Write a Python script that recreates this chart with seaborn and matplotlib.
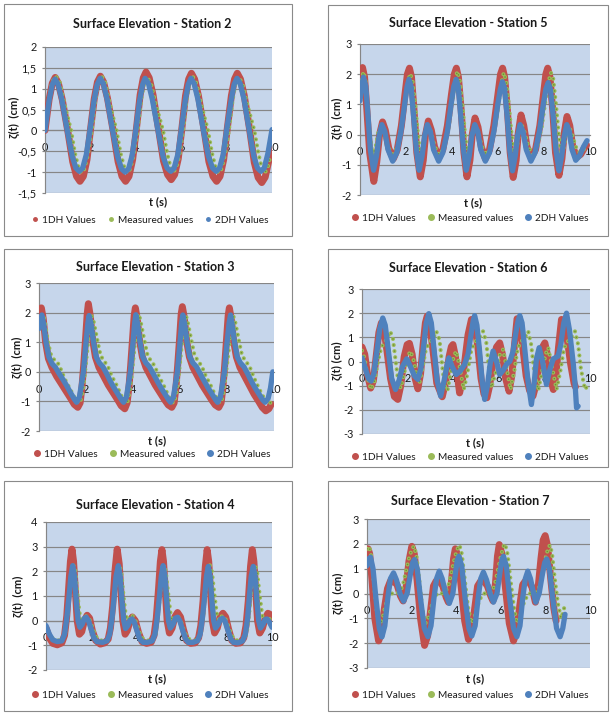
import matplotlib
matplotlib.use("Agg")
import matplotlib.pyplot as plt
import seaborn as sns
import pandas as pd
from matplotlib.lines import Line2D
from matplotlib.patches import Rectangle
from matplotlib.ticker import FuncFormatter

# ---------------- data (t [s], zeta [cm]) ----------------
series_names = ["1DH Values", "Measured values", "2DH Values"]

st2_1dh = [(0,0),(0.18,0.74),(0.32,1.13),(0.45,1.27),(0.59,1.13),(0.76,0.74),(1.0,0),(1.22,-0.75),(1.39,-1.1),(1.54,-1.22),(1.69,-1.1),(1.85,-0.7),
           (2.0,0),(2.17,0.76),(2.31,1.16),(2.44,1.3),(2.58,1.16),(2.75,0.78),(3.0,0),(3.22,-0.75),(3.39,-1.1),(3.55,-1.22),(3.7,-1.1),(3.86,-0.7),
           (4.02,0),(4.19,0.85),(4.33,1.26),(4.45,1.4),(4.59,1.26),(4.76,0.85),(5.01,0),(5.22,-0.73),(5.4,-1.06),(5.56,-1.18),(5.71,-1.06),(5.87,-0.68),
           (6.02,0),(6.19,0.83),(6.33,1.23),(6.45,1.37),(6.59,1.23),(6.76,0.83),(7.01,0),(7.22,-0.75),(7.4,-1.1),(7.56,-1.22),(7.71,-1.1),(7.87,-0.7),
           (8.02,0),(8.21,0.83),(8.35,1.23),(8.47,1.37),(8.61,1.23),(8.78,0.83),(9.02,0),(9.22,-0.77),(9.39,-1.13),(9.55,-1.25),(9.7,-1.12),(9.85,-0.75),(9.95,-0.45)]
st2_meas = [(0,0.05),(0.15,0.7),(0.3,1.15),(0.48,1.3),(0.65,1.15),(0.85,0.65),(1.15,0),(1.32,-0.55),(1.48,-0.9),(1.6,-1.02),(1.74,-0.92),(1.9,-0.55),
            (2.06,0),(2.22,0.75),(2.35,1.18),(2.48,1.32),(2.65,1.15),(2.85,0.65),(3.15,0),(3.33,-0.55),(3.5,-0.9),(3.62,-1.03),(3.76,-0.92),(3.92,-0.55),
            (4.08,0),(4.24,0.75),(4.37,1.15),(4.5,1.28),(4.67,1.12),(4.87,0.65),(5.2,0),(5.38,-0.55),(5.53,-0.88),(5.65,-1.0),(5.78,-0.9),(5.94,-0.55),
            (6.08,0),(6.24,0.75),(6.37,1.17),(6.5,1.3),(6.67,1.13),(6.87,0.65),(7.18,0),(7.36,-0.55),(7.52,-0.9),(7.64,-1.02),(7.78,-0.92),(7.94,-0.55),
            (8.1,0),(8.27,0.75),(8.4,1.15),(8.53,1.28),(8.7,1.12),(8.9,0.65),(9.22,0),(9.4,-0.55),(9.55,-0.9),(9.67,-1.02),(9.8,-0.92),(9.93,-0.6)]
st2_2dh = [(0,0),(0.18,0.72),(0.32,1.1),(0.44,1.23),(0.58,1.1),(0.75,0.72),(0.98,0),(1.2,-0.62),(1.36,-0.9),(1.51,-0.98),(1.66,-0.9),(1.82,-0.58),
           (1.98,0),(2.16,0.72),(2.3,1.1),(2.43,1.25),(2.57,1.12),(2.74,0.74),(2.98,0),(3.2,-0.63),(3.37,-0.92),(3.53,-1.0),(3.68,-0.92),(3.84,-0.6),
           (4.0,0),(4.17,0.72),(4.3,1.1),(4.41,1.25),(4.56,1.12),(4.73,0.74),(4.98,0),(5.2,-0.62),(5.38,-0.9),(5.54,-0.98),(5.69,-0.9),(5.85,-0.58),
           (6.0,0),(6.18,0.72),(6.31,1.1),(6.43,1.25),(6.57,1.12),(6.74,0.74),(6.98,0),(7.2,-0.62),(7.38,-0.9),(7.54,-0.98),(7.69,-0.9),(7.85,-0.58),
           (8.0,0),(8.2,0.72),(8.33,1.1),(8.46,1.25),(8.6,1.12),(8.77,0.74),(9.0,0),(9.2,-0.62),(9.36,-0.9),(9.51,-0.98),(9.66,-0.9),(9.82,-0.55),(10.0,0.02)]

st5_1dh = [(0,1.4),(0.05,1.95),(0.11,2.22),(0.2,1.9),(0.3,0.8),(0.42,-0.6),(0.6,-1.55),(0.73,-0.9),(0.85,0.0),(0.98,0.42),(1.1,0.15),(1.25,-0.45),(1.45,-0.8),(1.62,-0.5),(1.8,0.3),(1.95,1.3),
           (2.06,2.0),(2.15,2.2),(2.24,1.9),(2.35,0.8),(2.47,-0.6),(2.62,-1.4),(2.75,-0.85),(2.85,0.0),(2.97,0.45),(3.1,0.15),(3.24,-0.4),(3.42,-0.75),(3.6,-0.5),(3.8,0.3),(3.98,1.35),
           (4.1,2.0),(4.19,2.2),(4.28,1.9),(4.4,0.8),(4.52,-0.6),(4.65,-1.4),(4.78,-0.85),(4.88,0.0),(5.0,0.55),(5.13,0.25),(5.27,-0.4),(5.45,-0.8),(5.63,-0.5),(5.82,0.3),(6.0,1.35),
           (6.11,2.0),(6.2,2.2),(6.29,1.9),(6.41,0.8),(6.53,-0.6),(6.66,-1.42),(6.79,-0.85),(6.88,0.05),(7.0,0.65),(7.12,0.3),(7.26,-0.4),(7.45,-0.75),(7.63,-0.5),(7.82,0.3),(7.98,1.35),
           (8.08,2.0),(8.16,2.2),(8.26,1.9),(8.38,0.8),(8.5,-0.6),(8.65,-1.35),(8.78,-0.8),(8.88,0.05),(9.0,0.6),(9.12,0.3),(9.25,-0.4),(9.42,-0.75),(9.6,-0.65),(9.75,-0.45),(9.85,-0.35)]
st5_meas = [(0,1.2),(0.07,1.8),(0.15,2.08),(0.24,1.8),(0.33,1.0),(0.43,0.0),(0.55,-0.7),(0.68,-0.4),(0.8,0.1),(0.93,0.25),(1.05,0.05),(1.2,-0.4),(1.42,-0.65),(1.6,-0.45),(1.8,0.25),(1.97,1.1),
            (2.08,1.7),(2.18,2.02),(2.28,1.8),(2.4,1.0),(2.52,0.0),(2.63,-0.7),(2.75,-0.4),(2.86,0.1),(2.98,0.28),(3.1,0.05),(3.25,-0.4),(3.45,-0.68),(3.65,-0.45),(3.85,0.25),(4.02,1.1),
            (4.13,1.75),(4.23,2.1),(4.33,1.85),(4.45,1.0),(4.57,0.0),(4.68,-0.7),(4.8,-0.4),(4.91,0.1),(5.03,0.28),(5.15,0.05),(5.3,-0.4),(5.5,-0.68),(5.68,-0.45),(5.88,0.25),(6.04,1.1),
            (6.15,1.7),(6.25,2.05),(6.35,1.8),(6.47,1.0),(6.59,0.0),(6.7,-0.7),(6.82,-0.4),(6.93,0.1),(7.05,0.28),(7.17,0.05),(7.32,-0.4),(7.5,-0.68),(7.7,-0.45),(7.9,0.25),(8.06,1.1),
            (8.18,1.7),(8.3,2.05),(8.4,1.85),(8.52,1.0),(8.64,0.0),(8.75,-0.7),(8.87,-0.4),(8.98,0.1),(9.1,0.25),(9.22,0.0),(9.38,-0.4),(9.55,-0.6),(9.72,-0.5),(9.9,-0.35)]
st5_2dh = [(0,1.12),(0.07,1.6),(0.15,1.9),(0.25,1.6),(0.35,0.6),(0.45,-0.5),(0.59,-1.18),(0.72,-0.7),(0.83,-0.05),(0.95,0.33),(1.08,0.1),(1.22,-0.5),(1.42,-0.88),(1.6,-0.6),(1.78,0.1),(1.95,1.05),
           (2.05,1.6),(2.13,1.83),(2.22,1.6),(2.33,0.6),(2.45,-0.5),(2.57,-1.18),(2.7,-0.7),(2.81,-0.05),(2.93,0.33),(3.06,0.1),(3.2,-0.5),(3.42,-0.88),(3.6,-0.6),(3.8,0.1),(3.97,1.05),
           (4.08,1.6),(4.18,1.83),(4.27,1.6),(4.38,0.6),(4.5,-0.5),(4.62,-1.18),(4.75,-0.7),(4.86,-0.05),(4.99,0.33),(5.12,0.1),(5.25,-0.5),(5.45,-0.88),(5.63,-0.6),(5.82,0.1),(5.99,1.0),
           (6.1,1.5),(6.19,1.75),(6.28,1.55),(6.4,0.6),(6.51,-0.5),(6.63,-1.2),(6.75,-0.7),(6.85,-0.05),(6.96,0.33),(7.09,0.1),(7.23,-0.5),(7.43,-0.88),(7.61,-0.6),(7.8,0.1),(7.97,1.0),
           (8.08,1.5),(8.18,1.72),(8.28,1.5),(8.4,0.6),(8.52,-0.5),(8.65,-1.2),(8.77,-0.7),(8.88,-0.05),(8.99,0.33),(9.1,0.1),(9.22,-0.5),(9.38,-0.85),(9.55,-0.7),(9.72,-0.4),(9.87,-0.2)]

st3_1dh = [(0,1.7),(0.05,2.05),(0.1,2.16),(0.18,1.8),(0.28,1.0),(0.4,0.45),(0.55,0.15),(0.75,-0.15),(0.95,-0.4),(1.15,-0.65),(1.35,-0.9),(1.5,-1.1),(1.65,-1.2),(1.75,-1.05),(1.83,-0.5),(1.9,0.2),(1.98,1.1),
           (2.05,1.95),(2.1,2.3),(2.18,1.9),(2.28,1.1),(2.4,0.5),(2.55,0.15),(2.75,-0.15),(2.95,-0.45),(3.15,-0.7),(3.35,-0.95),(3.5,-1.15),(3.65,-1.25),(3.75,-1.05),(3.83,-0.5),(3.9,0.2),(3.98,1.1),
           (4.05,1.9),(4.1,2.16),(4.18,1.8),(4.28,1.05),(4.4,0.5),(4.55,0.15),(4.75,-0.15),(4.95,-0.45),(5.15,-0.7),(5.35,-0.95),(5.5,-1.12),(5.65,-1.2),(5.75,-1.05),(5.83,-0.5),(5.9,0.2),(5.98,1.1),
           (6.05,1.95),(6.1,2.2),(6.18,1.85),(6.28,1.05),(6.4,0.5),(6.55,0.15),(6.75,-0.15),(6.95,-0.45),(7.15,-0.7),(7.35,-0.95),(7.5,-1.12),(7.65,-1.2),(7.75,-1.05),(7.83,-0.5),(7.9,0.2),(7.98,1.1),
           (8.05,1.9),(8.1,2.16),(8.18,1.8),(8.28,1.05),(8.4,0.5),(8.55,0.15),(8.75,-0.15),(8.95,-0.45),(9.15,-0.75),(9.35,-1.0),(9.5,-1.2),(9.65,-1.32),(9.78,-1.25),(9.88,-1.1)]
st3_meas = [(0,1.5),(0.08,1.85),(0.18,1.95),(0.27,1.6),(0.37,1.05),(0.5,0.6),(0.65,0.4),(0.8,0.3),(0.95,0.05),(1.1,-0.25),(1.3,-0.55),(1.5,-0.85),(1.65,-1.03),(1.75,-1.05),(1.85,-0.7),(1.95,-0.1),
            (2.05,0.7),(2.15,1.5),(2.23,1.9),(2.3,1.8),(2.4,1.4),(2.5,1.0),(2.62,0.55),(2.78,0.35),(2.92,0.2),(3.1,-0.15),(3.3,-0.45),(3.5,-0.8),(3.65,-1.02),(3.75,-1.07),(3.85,-0.7),(3.95,-0.1),
            (4.05,0.7),(4.15,1.5),(4.23,1.95),(4.3,1.8),(4.4,1.4),(4.5,1.0),(4.62,0.55),(4.78,0.35),(4.92,0.2),(5.1,-0.15),(5.3,-0.45),(5.5,-0.8),(5.65,-1.02),(5.75,-1.05),(5.85,-0.7),(5.95,-0.1),
            (6.05,0.7),(6.15,1.5),(6.23,1.9),(6.3,1.8),(6.4,1.4),(6.5,1.0),(6.62,0.55),(6.78,0.35),(6.92,0.2),(7.1,-0.15),(7.3,-0.45),(7.5,-0.8),(7.65,-1.02),(7.75,-1.05),(7.85,-0.7),(7.95,-0.1),
            (8.07,0.7),(8.17,1.5),(8.25,1.9),(8.32,1.8),(8.42,1.4),(8.52,1.0),(8.64,0.55),(8.8,0.35),(8.95,0.2),(9.15,-0.2),(9.35,-0.55),(9.55,-0.85),(9.7,-1.05),(9.8,-1.1),(9.92,-0.95)]
st3_2dh = [(0,1.46),(0.05,1.75),(0.12,1.92),(0.2,1.6),(0.3,1.0),(0.42,0.5),(0.55,0.28),(0.7,0.15),(0.85,-0.05),(1.05,-0.3),(1.2,-0.5),(1.35,-0.72),(1.5,-0.92),(1.6,-1.03),(1.72,-0.85),(1.8,-0.45),(1.89,0.0),(1.99,0.9),(2.08,1.65),(2.13,1.9),
           (2.22,1.6),(2.32,1.0),(2.44,0.5),(2.57,0.3),(2.72,0.17),(2.87,-0.05),(3.05,-0.34),(3.2,-0.55),(3.4,-0.8),(3.52,-0.95),(3.6,-1.03),(3.72,-0.85),(3.8,-0.45),(3.89,0.0),(3.99,0.9),(4.07,1.65),(4.12,1.93),
           (4.2,1.6),(4.3,1.0),(4.42,0.5),(4.55,0.3),(4.7,0.17),(4.85,-0.05),(5.05,-0.34),(5.2,-0.55),(5.4,-0.8),(5.52,-0.95),(5.6,-1.03),(5.72,-0.85),(5.8,-0.45),(5.89,0.0),(5.99,0.9),(6.07,1.65),(6.12,1.92),
           (6.2,1.6),(6.3,1.0),(6.42,0.5),(6.55,0.3),(6.7,0.17),(6.85,-0.05),(7.05,-0.34),(7.2,-0.55),(7.4,-0.8),(7.52,-0.95),(7.6,-1.03),(7.72,-0.85),(7.8,-0.45),(7.89,0.0),(7.99,0.9),(8.09,1.65),(8.15,1.92),
           (8.22,1.6),(8.32,1.0),(8.44,0.5),(8.57,0.3),(8.72,0.17),(8.87,-0.05),(9.05,-0.34),(9.2,-0.55),(9.4,-0.8),(9.52,-0.95),(9.62,-1.03),(9.75,-0.9),(9.85,-0.55),(9.95,0.0)]

st6_1dh = [(0,0.6),(0.12,0.3),(0.25,-0.6),(0.38,-1.1),(0.5,-0.8),(0.62,0.2),(0.74,1.2),(0.85,1.6),(0.97,1.3),(1.1,0.4),(1.25,-0.7),(1.42,-1.45),(1.57,-1.57),(1.7,-1.0),(1.85,0.2),(1.98,0.7),
           (2.08,0.75),(2.2,0.3),(2.33,-0.7),(2.45,-1.13),(2.57,-0.5),(2.68,0.7),(2.78,1.6),(2.86,1.88),(2.98,1.5),(3.12,0.4),(3.28,-0.9),(3.52,-1.46),(3.68,-0.8),(3.82,0.2),(3.92,0.62),
           (3.99,0.7),(4.1,0.2),(4.2,-0.7),(4.28,-1.3),(4.4,-0.8),(4.52,0.1),(4.65,1.1),(4.8,1.74),(4.95,1.5),(5.08,0.6),(5.22,-0.7),(5.35,-1.35),(5.48,-1.5),(5.6,-1.0),(5.75,0.0),(5.9,0.6),
           (6.04,0.77),(6.16,0.3),(6.3,-0.7),(6.45,-1.23),(6.57,-0.6),(6.68,0.6),(6.8,1.77),(6.92,1.6),(7.05,0.6),(7.2,-0.6),(7.35,-1.2),(7.5,-1.43),(7.65,-0.9),(7.8,0.1),(7.92,0.6),
           (8.02,0.77),(8.15,0.2),(8.27,-0.7),(8.39,-1.16),(8.5,-0.6),(8.62,0.6),(8.75,1.74),(8.88,1.6),(9.02,0.8),(9.15,-0.1),(9.3,-0.9),(9.36,-1.05)]
st6_meas = [(0,0.45),(0.12,0.1),(0.25,-0.7),(0.4,-1.16),(0.55,-0.8),(0.7,0.0),(0.85,0.6),(0.98,0.77),(1.1,0.95),(1.23,1.25),(1.35,1.0),(1.48,0.0),(1.6,-0.9),(1.7,-1.1),(1.85,-0.5),(2.0,0.2),
            (2.13,0.43),(2.28,0.0),(2.4,-0.6),(2.52,-0.88),(2.65,-0.3),(2.8,0.5),(2.96,0.8),(3.12,0.95),(3.26,1.25),(3.4,0.9),(3.52,-0.2),(3.62,-1.0),(3.75,-1.2),(3.9,-0.4),(4.02,0.2),
            (4.13,0.43),(4.28,-0.2),(4.46,-1.16),(4.6,-0.6),(4.78,0.4),(4.94,0.8),(5.12,0.95),(5.31,1.25),(5.45,0.8),(5.57,-0.3),(5.67,-1.1),(5.85,-0.5),(6.05,0.3),
            (6.19,0.5),(6.35,-0.3),(6.51,-1.16),(6.68,-0.4),(6.82,0.5),(6.95,0.8),(7.12,0.95),(7.29,1.25),(7.42,0.7),(7.55,-0.4),(7.73,-1.2),(7.9,-0.4),(8.05,0.3),
            (8.17,0.57),(8.35,-0.3),(8.53,-1.16),(8.7,-0.4),(8.85,0.5),(8.97,0.77),(9.15,0.95),(9.34,1.25),(9.48,0.7),(9.6,-0.3),(9.78,-1.16),(9.93,-0.95)]
st6_2dh = [(0,0.15),(0.15,-0.3),(0.28,-0.7),(0.4,-0.81),(0.52,-0.5),(0.65,0.4),(0.78,1.35),(0.91,1.8),(1.02,1.5),(1.15,0.5),(1.3,-0.7),(1.47,-1.16),(1.62,-0.8),(1.78,-0.2),(1.96,0.11),
           (2.12,-0.2),(2.3,-0.6),(2.45,-0.74),(2.58,-0.3),(2.7,0.6),(2.82,1.6),(2.93,1.98),(3.04,1.6),(3.16,0.5),(3.3,-0.8),(3.45,-1.43),(3.6,-0.8),(3.72,-0.2),(3.81,0.15),
           (3.95,-0.2),(4.13,-0.54),(4.3,-0.4),(4.5,-0.12),(4.65,0.3),(4.78,1.1),(4.88,1.7),(4.94,1.9),(5.04,1.5),(5.15,0.5),(5.27,-0.8),(5.38,-1.57),(5.5,-1.0),(5.62,-0.1),(5.75,0.43),
           (5.9,0.0),(6.04,-0.54),(6.2,-0.35),(6.35,-0.1),(6.48,0.0),(6.62,0.4),(6.75,1.2),(6.85,1.7),(6.92,1.9),(7.02,1.6),(7.13,0.6),(7.28,-0.8),(7.43,-1.78),(7.55,-0.9),(7.65,0.1),(7.77,0.57),
           (7.92,0.0),(8.09,-0.95),(8.25,-0.3),(8.39,0.11),(8.6,0.22),(8.72,0.7),(8.85,1.6),(8.97,2.0),(9.1,1.3),(9.27,-0.12),(9.35,-1.0),(9.41,-1.92),(9.48,-1.85)]

st4_1dh = [(0,-0.3),(0.15,-0.7),(0.3,-0.92),(0.5,-0.98),(0.7,-0.9),(0.82,-0.6),(0.92,0.2),(1.0,1.3),(1.08,2.4),(1.15,2.9),(1.22,2.4),(1.3,1.2),(1.38,0.0),(1.48,-0.55),(1.58,-0.45),(1.7,0.0),(1.82,0.22),(1.93,0.1),
           (2.05,-0.4),(2.2,-0.8),(2.4,-0.95),(2.6,-0.9),(2.75,-0.75),(2.85,-0.3),(2.95,0.6),(3.05,2.0),(3.15,2.9),(3.24,2.3),(3.32,1.1),(3.4,0.0),(3.5,-0.55),(3.6,-0.4),(3.72,0.0),(3.82,0.15),(3.95,0.0),
           (4.1,-0.5),(4.25,-0.85),(4.45,-0.92),(4.65,-0.88),(4.78,-0.6),(4.88,0.1),(4.98,1.3),(5.06,2.4),(5.13,2.88),(5.2,2.4),(5.28,1.2),(5.36,0.0),(5.46,-0.5),(5.58,-0.3),(5.7,0.15),(5.82,0.33),(5.95,0.15),
           (6.08,-0.35),(6.22,-0.8),(6.4,-0.92),(6.6,-0.9),(6.75,-0.7),(6.85,-0.2),(6.95,0.8),(7.05,2.2),(7.13,2.88),(7.2,2.4),(7.28,1.2),(7.36,0.0),(7.46,-0.5),(7.58,-0.3),(7.7,0.15),(7.83,0.3),(7.95,0.15),
           (8.08,-0.35),(8.22,-0.8),(8.4,-0.92),(8.6,-0.9),(8.75,-0.7),(8.85,-0.2),(8.95,0.8),(9.05,2.2),(9.13,2.88),(9.2,2.4),(9.28,1.2),(9.36,0.0),(9.46,-0.5),(9.58,-0.3),(9.7,0.1),(9.82,0.3),(9.92,0.25),(10.0,0.05)]
st4_meas = [(0,-0.3),(0.15,-0.55),(0.3,-0.72),(0.5,-0.8),(0.7,-0.8),(0.85,-0.5),(0.95,0.2),(1.05,1.1),(1.13,1.9),(1.22,2.25),(1.3,2.0),(1.4,1.0),(1.5,0.2),(1.6,-0.1),(1.72,0.15),(1.82,0.2),(1.95,0.0),
            (2.1,-0.4),(2.25,-0.7),(2.45,-0.8),(2.7,-0.8),(2.85,-0.5),(2.95,0.2),(3.05,1.1),(3.14,1.9),(3.24,2.25),(3.33,2.0),(3.43,1.0),(3.53,0.2),(3.63,0.0),(3.75,0.22),(3.85,0.18),(3.98,-0.05),
            (4.12,-0.45),(4.28,-0.72),(4.5,-0.8),(4.72,-0.8),(4.86,-0.5),(4.96,0.2),(5.05,1.1),(5.13,1.9),(5.22,2.25),(5.3,2.0),(5.42,1.0),(5.52,0.2),(5.62,-0.05),(5.75,0.15),(5.85,0.15),(5.98,-0.05),
            (6.12,-0.45),(6.28,-0.72),(6.5,-0.8),(6.72,-0.8),(6.86,-0.5),(6.96,0.2),(7.06,1.1),(7.15,1.9),(7.25,2.25),(7.34,2.0),(7.46,1.0),(7.57,0.2),(7.67,0.0),(7.78,0.18),(7.88,0.18),(8.0,-0.05),
            (8.15,-0.45),(8.3,-0.72),(8.5,-0.82),(8.75,-0.8),(8.88,-0.5),(8.98,0.2),(9.07,1.1),(9.16,1.9),(9.25,2.25),(9.34,2.0),(9.46,1.0),(9.57,0.2),(9.67,0.0),(9.78,0.12),(9.88,0.1),(9.97,-0.1)]
st4_2dh = [(0,-0.2),(0.15,-0.55),(0.3,-0.78),(0.5,-0.85),(0.7,-0.82),(0.82,-0.55),(0.92,0.1),(1.02,1.0),(1.1,1.8),(1.18,2.23),(1.26,1.8),(1.34,0.8),(1.42,0.0),(1.5,-0.27),(1.6,-0.15),(1.7,0.1),(1.78,0.14),(1.88,0.0),
           (2.0,-0.35),(2.12,-0.7),(2.25,-0.85),(2.5,-0.88),(2.7,-0.82),(2.82,-0.55),(2.92,0.1),(3.02,1.0),(3.1,1.8),(3.2,2.23),(3.28,1.8),(3.36,0.8),(3.44,0.0),(3.52,-0.32),(3.62,-0.2),(3.72,0.02),(3.8,0.07),(3.9,-0.05),
           (4.02,-0.4),(4.15,-0.75),(4.3,-0.88),(4.5,-0.88),(4.7,-0.82),(4.82,-0.55),(4.92,0.1),(5.02,1.0),(5.1,1.8),(5.18,2.23),(5.26,1.8),(5.34,0.8),(5.42,0.0),(5.5,-0.3),(5.62,-0.15),(5.72,0.1),(5.82,0.14),(5.92,0.0),
           (6.05,-0.4),(6.18,-0.75),(6.3,-0.88),(6.5,-0.88),(6.7,-0.82),(6.82,-0.55),(6.92,0.1),(7.02,1.0),(7.1,1.8),(7.18,2.2),(7.26,1.8),(7.34,0.8),(7.42,0.0),(7.5,-0.3),(7.62,-0.15),(7.72,0.05),(7.82,0.1),(7.92,-0.02),
           (8.05,-0.4),(8.18,-0.75),(8.3,-0.88),(8.5,-0.9),(8.7,-0.82),(8.82,-0.55),(8.92,0.1),(9.0,1.0),(9.08,1.8),(9.17,2.2),(9.25,1.8),(9.33,0.8),(9.41,0.0),(9.49,-0.3),(9.6,-0.15),(9.7,0.05),(9.78,0.07),(9.88,-0.05),(10.0,-0.27)]

st7_1dh = [(0,1.7),(0.05,1.8),(0.12,1.6),(0.22,0.6),(0.35,-1.0),(0.52,-1.91),(0.65,-1.6),(0.78,-0.6),(0.92,0.2),(1.05,0.5),(1.2,0.5),(1.35,0.35),(1.5,-0.1),(1.62,-0.3),(1.75,0.2),(1.88,1.3),
           (2.01,1.9),(2.12,1.6),(2.25,0.5),(2.4,-1.0),(2.58,-2.09),(2.72,-1.7),(2.85,-0.7),(2.98,0.3),(3.1,0.5),(3.25,0.5),(3.4,0.3),(3.55,-0.15),(3.65,-0.35),(3.77,0.3),(3.88,1.4),
           (3.96,1.8),(4.08,1.5),(4.22,0.3),(4.38,-1.1),(4.55,-1.85),(4.7,-1.5),(4.83,-0.6),(4.96,0.3),(5.1,0.5),(5.25,0.5),(5.4,0.3),(5.55,-0.1),(5.65,-0.3),(5.76,0.4),(5.85,1.5),
           (5.93,1.97),(6.05,1.6),(6.2,0.3),(6.38,-1.2),(6.57,-1.91),(6.72,-1.5),(6.85,-0.5),(6.98,0.35),(7.1,0.5),(7.25,0.5),(7.4,0.25),(7.55,-0.35),(7.67,0.2),(7.8,1.4),(7.9,2.15),
           (7.99,2.33),(8.1,1.9),(8.25,0.5),(8.38,-0.6),(8.48,-1.1)]
st7_meas = [(0,1.8),(0.08,1.9),(0.16,1.7),(0.25,1.0),(0.35,0.0),(0.45,-0.8),(0.58,-1.25),(0.7,-1.0),(0.82,-0.5),(0.95,-0.15),(1.1,0.0),(1.3,0.0),(1.45,0.05),(1.6,0.3),(1.75,0.9),(1.9,1.5),
            (2.05,1.85),(2.12,1.9),(2.22,1.5),(2.35,0.5),(2.48,-0.6),(2.62,-1.2),(2.75,-1.0),(2.88,-0.55),(3.0,-0.2),(3.15,0.0),(3.35,0.0),(3.5,0.05),(3.65,0.3),(3.8,0.9),(3.95,1.5),
            (4.08,1.85),(4.15,1.95),(4.25,1.6),(4.38,0.6),(4.52,-0.5),(4.68,-1.2),(4.82,-0.95),(4.95,-0.5),(5.08,-0.2),(5.25,0.0),(5.42,0.0),(5.58,0.05),(5.72,0.3),(5.86,0.9),(6.0,1.5),
            (6.12,1.9),(6.19,2.0),(6.3,1.6),(6.43,0.6),(6.58,-0.5),(6.72,-1.2),(6.86,-0.95),(6.98,-0.5),(7.12,-0.2),(7.28,0.0),(7.45,0.0),(7.6,0.05),(7.75,0.3),(7.9,0.9),(8.03,1.5),
            (8.13,1.85),(8.21,1.95),(8.3,1.6),(8.42,0.6),(8.56,-0.4),(8.7,-1.0),(8.78,-0.8),(8.85,-0.55)]
st7_2dh = [(0,1.12),(0.08,1.4),(0.16,1.46),(0.27,1.0),(0.4,-0.2),(0.55,-1.4),(0.67,-1.75),(0.8,-1.3),(0.93,-0.2),(1.05,0.6),(1.19,0.83),(1.32,0.55),(1.48,0.0),(1.64,-0.31),(1.8,0.0),(1.95,0.8),
           (2.05,1.25),(2.13,1.37),(2.25,1.0),(2.4,-0.2),(2.57,-1.4),(2.73,-1.74),(2.87,-1.3),(3.0,-0.2),(3.12,0.6),(3.24,0.9),(3.37,0.6),(3.53,0.0),(3.69,-0.4),(3.85,0.0),(3.98,0.9),
           (4.05,1.35),(4.12,1.5),(4.25,1.1),(4.4,-0.2),(4.57,-1.4),(4.7,-1.71),(4.85,-1.3),(4.98,-0.2),(5.1,0.6),(5.22,0.86),(5.36,0.55),(5.52,0.0),(5.67,-0.35),(5.83,0.0),(5.97,0.9),
           (6.05,1.35),(6.12,1.5),(6.25,1.1),(6.4,-0.2),(6.57,-1.4),(6.72,-1.74),(6.86,-1.3),(6.98,-0.2),(7.1,0.6),(7.21,0.9),(7.33,0.6),(7.47,0.0),(7.57,-0.35),(7.72,0.0),(7.87,0.8),
           (7.97,1.25),(8.06,1.39),(8.18,1.0),(8.33,-0.2),(8.5,-1.4),(8.66,-1.74),(8.78,-1.4),(8.88,-0.84)]

# ---------------- styling / layout ----------------
W, H = 613, 718
RED, GREEN, GREEN_DK, BLUE = "#C0504D", "#9BBB59", "#6F8F35", "#4F81BD"
BG = "#C6D6EB"
GRID = "#868686"

plt.rcParams["font.family"] = ["Lato", "DejaVu Sans"]
plt.rcParams["axes.unicode_minus"] = False
plt.rcParams["lines.scale_dashes"] = False

panels = [
    dict(title="Surface Elevation - Station 2", box=(4, 4, 292, 236), ax=(45, 47, 272, 193),
         yticks=[-1.5, -1, -0.5, 0, 0.5, 1, 1.5, 2], ylabel="ζ(t)  (cm)",
         data=(st2_1dh, st2_meas, st2_2dh), title_xy=(152, 24), xlabel_xy=(158, 202),
         ylabel_xy=(14, 117), legend_xy=(150, 220), legend_ms=2.5),
    dict(title="Surface Elevation - Station 5", box=(328, 5, 608, 236), ax=(360, 44, 590, 195),
         yticks=[-2, -1, 0, 1, 2, 3], ylabel="ζ(t)  (cm)",
         data=(st5_1dh, st5_meas, st5_2dh), title_xy=(468, 23), xlabel_xy=(473, 203),
         ylabel_xy=(337, 118), legend_xy=(470, 218), legend_ms=4.0),
    dict(title="Surface Elevation - Station 3", box=(4, 249, 292, 467), ax=(39, 283, 274, 431),
         yticks=[-2, -1, 0, 1, 2, 3], ylabel="ζ(t)  (cm)",
         data=(st3_1dh, st3_meas, st3_2dh), title_xy=(155, 267), xlabel_xy=(157, 441),
         ylabel_xy=(17, 357), legend_xy=(152, 454), legend_ms=4.0),
    dict(title="Surface Elevation - Station 6", box=(328, 249, 608, 467), ax=(362, 289, 590, 434),
         yticks=[-3, -2, -1, 0, 1, 2, 3], ylabel="ζ(t) (cm)",
         data=(st6_1dh, st6_meas, st6_2dh), title_xy=(468, 268), xlabel_xy=(475, 443),
         ylabel_xy=(337, 361), legend_xy=(470, 457), legend_ms=4.0),
    dict(title="Surface Elevation - Station 4", box=(4, 481, 292, 711), ax=(46, 522, 272, 670),
         yticks=[-2, -1, 0, 1, 2, 3, 4], ylabel="ζ(t)  (cm)",
         data=(st4_1dh, st4_meas, st4_2dh), title_xy=(155, 505), xlabel_xy=(157, 679),
         ylabel_xy=(18, 596), legend_xy=(150, 695), legend_ms=4.0),
    dict(title="Surface Elevation - Station 7", box=(328, 481, 608, 711), ax=(367, 519, 590, 668),
         yticks=[-3, -2, -1, 0, 1, 2, 3], ylabel="ζ(t)  (cm)",
         data=(st7_1dh, st7_meas, st7_2dh), title_xy=(470, 501), xlabel_xy=(475, 679),
         ylabel_xy=(338, 593), legend_xy=(470, 695), legend_ms=4.0),
]

xticks = [0, 2, 4, 6, 8, 10]
fmt = FuncFormatter(lambda v, _: f"{v:g}".replace(".", ","))

fig = plt.figure(figsize=(W / 100, H / 100), dpi=100)
fig.patch.set_facecolor("white")


def fx(x):
    return x / W


def fy(y):
    return 1 - y / H


for p in panels:
    l, t, r, b = p["box"]
    fig.patches.append(Rectangle((fx(l), fy(b)), (r - l) / W, (b - t) / H, transform=fig.transFigure,
                                 fill=False, edgecolor="#8A8A8A", linewidth=0.8))
    l, t, r, b = p["ax"]
    ax = fig.add_axes([fx(l), fy(b), (r - l) / W, (b - t) / H])
    ax.set_facecolor(BG)

    d1, dm, d2 = [pd.DataFrame(s, columns=["t", "z"]) for s in p["data"]]
    sns.lineplot(data=d1, x="t", y="z", ax=ax, sort=False, estimator=None, color=RED, linewidth=5.0,
                 solid_capstyle="round", solid_joinstyle="round", zorder=3)
    sns.lineplot(data=dm, x="t", y="z", ax=ax, sort=False, estimator=None, color=GREEN, linewidth=3.0,
                 linestyle=(0, (0.01, 4.4)), dash_capstyle="round", zorder=4)
    sns.lineplot(data=dm, x="t", y="z", ax=ax, sort=False, estimator=None, color=GREEN_DK, linewidth=1.2,
                 linestyle=(0, (0.01, 4.4)), dash_capstyle="round", zorder=4.1)
    sns.lineplot(data=d2, x="t", y="z", ax=ax, sort=False, estimator=None, color=BLUE, linewidth=3.8,
                 solid_capstyle="round", solid_joinstyle="round", zorder=5)

    ax.set_xlim(0, 10)
    ax.set_ylim(p["yticks"][0], p["yticks"][-1])
    ax.set_xticks(xticks)
    ax.set_yticks(p["yticks"])
    ax.xaxis.set_major_formatter(fmt)
    ax.yaxis.set_major_formatter(fmt)
    ax.set_xlabel("")
    ax.set_ylabel("")
    ax.set_axisbelow(True)
    ax.grid(axis="y", color=GRID, linewidth=0.85)
    ax.grid(axis="x", visible=False)
    for s in ("top", "right"):
        ax.spines[s].set_visible(False)
    ax.spines["left"].set_color(GRID)
    ax.spines["left"].set_linewidth(0.85)
    ax.spines["bottom"].set_position(("data", 0))
    ax.spines["bottom"].set_color(GRID)
    ax.spines["bottom"].set_linewidth(0.85)
    ax.spines["left"].set_zorder(1)
    ax.spines["bottom"].set_zorder(1)
    ax.tick_params(axis="x", length=0, pad=8.5, labelsize=7.8, labelcolor="#1a1a1a")
    ax.tick_params(axis="y", length=2.5, width=0.85, color=GRID, pad=3.5, labelsize=7.8, labelcolor="#1a1a1a")

    fig.text(fx(p["title_xy"][0]), fy(p["title_xy"][1]), p["title"], ha="center", va="center",
             fontsize=9.0, fontweight="bold", color="#1a1a1a")
    fig.text(fx(p["xlabel_xy"][0]), fy(p["xlabel_xy"][1]), "t (s)", ha="center", va="center",
             fontsize=8, fontweight="bold", color="#1a1a1a")
    fig.text(fx(p["ylabel_xy"][0]), fy(p["ylabel_xy"][1]), p["ylabel"], ha="center", va="center",
             rotation=90, fontsize=8, fontweight="bold", color="#1a1a1a")

    ms = p["legend_ms"]
    handles = [Line2D([], [], linestyle="none", marker="o", markersize=ms, color=c, markeredgecolor=c)
               for c in (RED, GREEN, BLUE)]
    fig.legend(handles, series_names, loc="center", bbox_to_anchor=(fx(p["legend_xy"][0]), fy(p["legend_xy"][1])),
               ncol=3, frameon=False, fontsize=7.3, handlelength=0.7, handletextpad=0.35,
               columnspacing=1.1, borderpad=0, borderaxespad=0, labelcolor="#1a1a1a")

fig.savefig("out.png", dpi=100, facecolor="white")
